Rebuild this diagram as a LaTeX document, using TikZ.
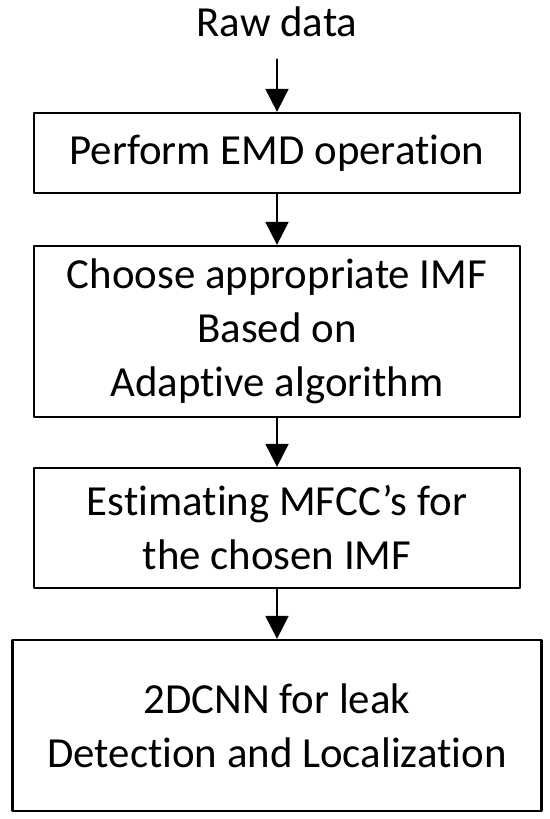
\documentclass[tikz,border=0pt]{standalone}
\usepackage{fontspec}
\setmainfont{Carlito}[Ligatures={NoCommon,NoContextual}]
\usetikzlibrary{arrows.meta}

\begin{document}
\begin{tikzpicture}[
  x=0.02cm,y=-0.02cm,
  line cap=round,line join=round,
  txt/.style={font=\fontsize{24.4}{30.7}\selectfont},
  box/.style={txt,draw,line width=1.3pt,inner sep=0pt,align=center,minimum width=9.72cm},
  flow/.style={line width=1.1pt,-{Triangle[length=0.46cm,width=0.46cm]}}
]
  \useasboundingbox (0,0) rectangle (550,819);

  % Input
  \node[txt] (raw) at (277,22) {Raw data};

  % Processing steps
  \node[box,minimum height=1.6cm] (emd) at (277,153) {Perform EMD operation};
  \node[box,minimum height=3.42cm] (imf) at (277,331.5)
    {Choose appropriate IMF\\Based on\\Adaptive algorithm};
  \node[box,minimum height=2.4cm] (mfcc) at (277,528)
    {Estimating MFCC's for\\the chosen IMF};
  \node[box,minimum width=10.58cm,minimum height=3.42cm] (cnn) at (277,725.5)
    {2DCNN for leak\\Detection and Localization};

  % Arrows
  \draw[flow,shorten <=0.32cm] (raw) -- (emd);
  \draw[flow] (emd) -- (imf);
  \draw[flow] (imf) -- (mfcc);
  \draw[flow] (mfcc) -- (cnn);
\end{tikzpicture}
\end{document}
